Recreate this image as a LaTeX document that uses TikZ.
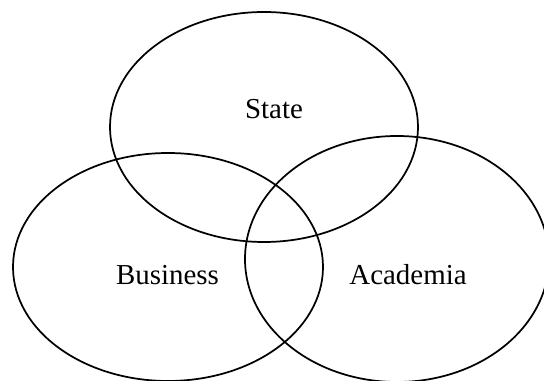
\documentclass[tikz,border=0pt]{standalone}
\usepackage{fontspec}
\setmainfont{Liberation Serif}
\usetikzlibrary{shapes.geometric}
\begin{document}
\begin{tikzpicture}[x=0.75pt,y=-0.75pt,
  set/.style={draw=black, line width=1.3pt, ellipse, inner sep=0pt},
  lbl/.style={anchor=base, inner sep=0pt, font=\fontsize{21.7}{26}\selectfont}]
\useasboundingbox (0,0) rectangle (544,381);
\clip (0,0) rectangle (544,381);
\fill[white] (0,0) rectangle (544,381);
\node[set, minimum width=231pt, minimum height=172.5pt] (state) at (264,127) {};
\node[set, minimum width=232.5pt, minimum height=171pt] (business) at (168,267) {};
\node[set, minimum width=228pt, minimum height=184.5pt] (academia) at (397,259) {};
\node[lbl] (tstate) at (274,119) {State};
\node[lbl] (tbusiness) at (167.5,285) {Business};
\node[lbl] (tacademia) at (408,285) {Academia};
\end{tikzpicture}
\end{document}
